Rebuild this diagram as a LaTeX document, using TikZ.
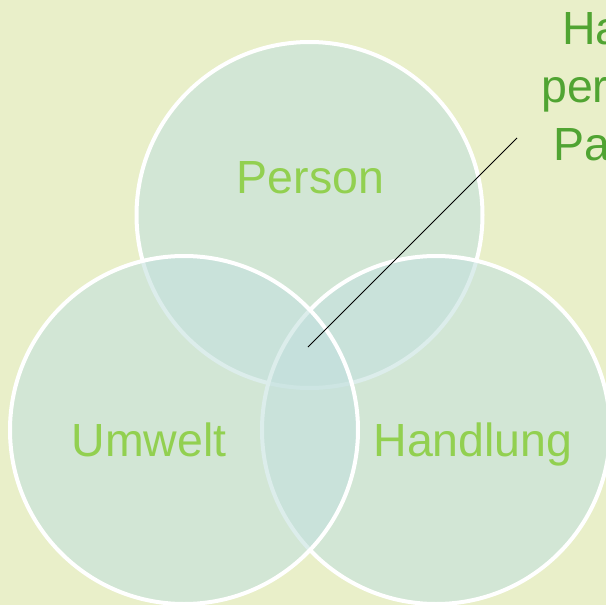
\documentclass[tikz,border=0pt]{standalone}
\usepackage{fontspec}
\setmainfont{Liberation Sans}
\definecolor{bgc}{RGB}{233,239,201}
\definecolor{circc}{RGB}{195,224,222}
\definecolor{labc}{RGB}{146,208,80}
\definecolor{callc}{RGB}{80,164,50}
\tikzset{
  venn/.style={fill=circc, fill opacity=0.58, draw=white, line width=4pt},
  lab/.style={text=labc, font=\fontsize{46.5}{56}\selectfont, inner sep=0pt},
  call/.style={text=callc, font=\fontsize{46.5}{56}\selectfont, inner sep=0pt, anchor=base west}
}
\begin{document}
\begin{tikzpicture}[x=1pt,y=-1pt]
\useasboundingbox (0,0) rectangle (606,605);
\fill[bgc] (0,0) rectangle (606,605);
\begin{scope}
\clip (0,0) rectangle (606,605);
\draw[venn] (309.5,215) circle[radius=173];
\draw[venn] (436,430) circle[radius=174];
\draw[venn] (184,430) circle[radius=174];
\node[lab, anchor=base] (person) at (310.5,193) {Person};
\node[lab, anchor=base] (umwelt) at (149,456) {Umwelt};
\node[lab, anchor=base] (handlung) at (473,456) {Handlung};
\node[call] (c1) at (562,45) {Ha};
\node[call] (c2) at (541,102) {per};
\node[call] (c3) at (553,160) {Pa};
\coordinate (tip) at (308,347);
\coordinate (lend) at (517,138);
\draw[black, line width=1pt] (tip) -- (lend);
\end{scope}
\end{tikzpicture}
\end{document}
